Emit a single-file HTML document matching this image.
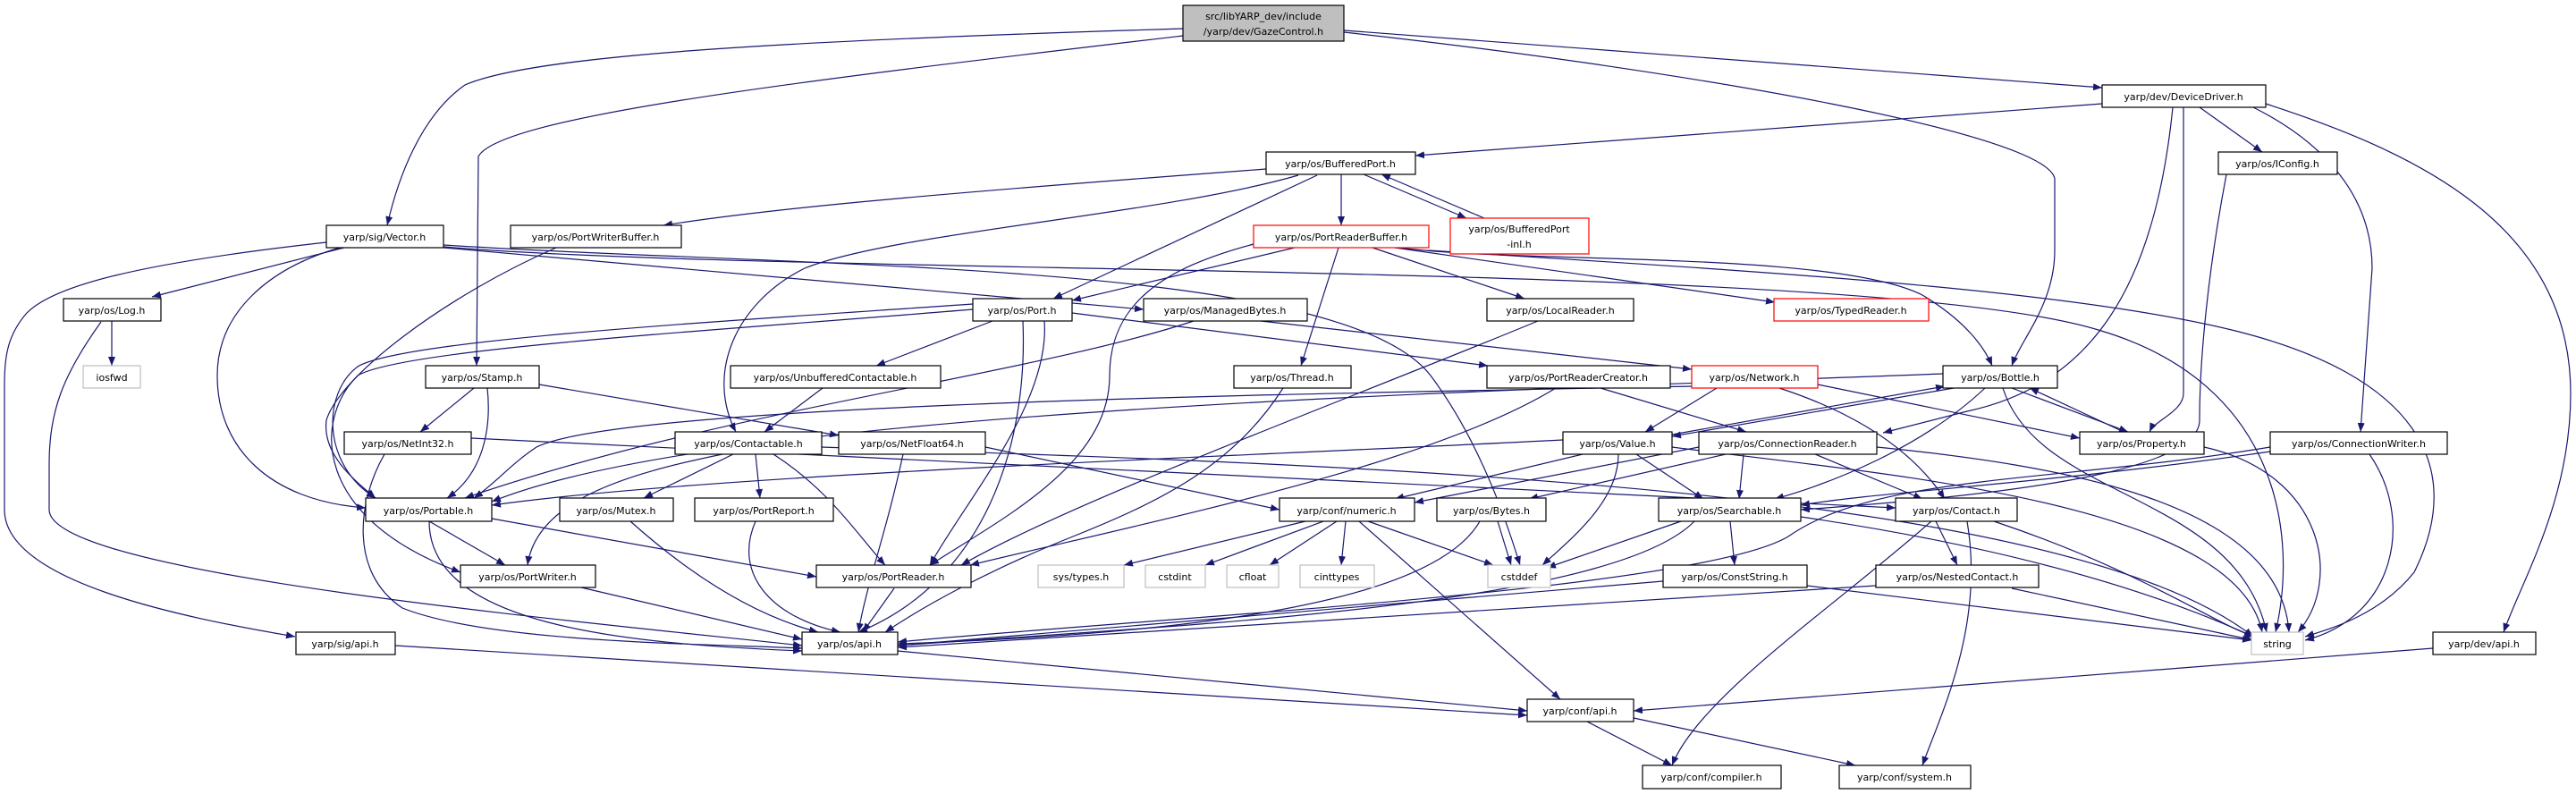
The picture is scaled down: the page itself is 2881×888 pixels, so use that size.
<!DOCTYPE html>
<html><head><meta charset="utf-8"><style>
html,body{margin:0;padding:0;background:#fff;width:2881px;height:888px;overflow:hidden}
svg{display:block}
text{font-family:"DejaVu Sans","Liberation Sans",sans-serif;font-size:11px;fill:#000}
.e{fill:none;stroke:#191970;stroke-width:1.2}
.n{fill:#fff;stroke:#000;stroke-width:1.2}
.r{fill:#fff;stroke:#ff0000;stroke-width:1.2}
.g{fill:#fff;stroke:#bfbfbf;stroke-width:1.2}
</style></head><body>
<svg width="2881" height="888" viewBox="0 0 2881 888" xmlns="http://www.w3.org/2000/svg">
<defs><marker id="a" markerWidth="11" markerHeight="8" refX="10" refY="4" orient="auto" markerUnits="userSpaceOnUse"><path d="M0,0 L10,4 L0,8 z" fill="#191970"/></marker></defs>
<g class="e" marker-end="url(#a)">
<path d="M1323,32 C900,45 600,60 520,95 C470,130 445,200 433,252"/>
<path d="M1323,40 C900,90 560,130 535,175 L533,409"/>
<path d="M1503,34 L2351,98"/>
<path d="M1503,36 C1900,80 2290,150 2298,200 L2298,280 C2298,340 2260,380 2250,409"/>
<path d="M2351,116 L1583,174"/>
<path d="M2460,120 L2530,170"/>
<path d="M2442,120 L2442,440 C2442,460 2410,470 2404,483"/>
<path d="M2430,120 C2410,320 2340,430 2200,460 L2106,484"/>
<path d="M2520,120 C2600,160 2653,220 2653,300 L2640,483"/>
<path d="M2534,116 C2700,170 2875,250 2875,440 C2875,560 2820,650 2800,707"/>
<path d="M1500,195 L1500,252"/>
<path d="M1525,195 L1640,244"/>
<path d="M1660,244 L1545,195"/>
<path d="M1416,189 C1000,220 850,235 742,252"/>
<path d="M1473,196 L1178,334"/>
<path d="M1452,196 C1300,240 1000,260 900,300 C820,340 790,420 823,483"/>
<path d="M1402,273 C1300,300 1241,340 1241,420 C1241,520 1120,580 1040,632"/>
<path d="M1448,277 L1199,336"/>
<path d="M1497,277 L1455,409"/>
<path d="M1535,277 L1705,334"/>
<path d="M1560,277 L1985,338"/>
<path d="M1565,277 C1700,295 2050,280 2150,330 C2200,360 2220,390 2228,409"/>
<path d="M1598,280 C1900,300 2300,320 2500,370 C2700,420 2760,520 2700,640 C2660,690 2600,705 2578,712"/>
<path d="M496,276 C900,310 2100,290 2350,370 C2550,430 2570,600 2545,707"/>
<path d="M496,277 L1279,346"/>
<path d="M496,274 C900,300 1500,290 1600,420 C1660,500 1690,600 1700,632"/>
<path d="M365,271 C150,295 60,320 30,350 C8,375 5,400 5,430 L5,570 C5,650 200,690 330,712"/>
<path d="M385,277 L170,332"/>
<path d="M380,277 C300,300 243,350 243,420 C243,500 300,560 409,568"/>
<path d="M125,359 L125,409"/>
<path d="M113,360 C70,420 55,460 55,520 L55,570 C55,640 600,690 897,722"/>
<path d="M622,277 C500,330 380,420 365,470 C360,510 400,540 420,557"/>
<path d="M1088,340 C800,360 450,380 400,410 C360,440 360,520 420,557"/>
<path d="M1088,346 C800,370 450,390 400,420 C350,470 350,580 515,640"/>
<path d="M1110,359 L980,409"/>
<path d="M1199,350 L1664,409"/>
<path d="M1144,359 C1150,500 1100,650 960,707"/>
<path d="M1168,359 C1175,450 1080,560 1040,632"/>
<path d="M1410,359 L1892,413"/>
<path d="M1335,359 C1150,420 800,460 520,557"/>
<path d="M1720,359 C1500,450 1200,560 1075,632"/>
<path d="M1435,434 C1380,520 1300,560 1200,600 C1100,640 1030,680 990,707"/>
<path d="M530,434 L470,483"/>
<path d="M545,434 C550,480 540,530 500,557"/>
<path d="M603,430 L938,487"/>
<path d="M920,434 L855,483"/>
<path d="M1740,434 C1600,520 1300,580 1085,632"/>
<path d="M1790,434 L1953,483"/>
<path d="M1920,434 L1840,483"/>
<path d="M1990,434 C2100,470 2150,520 2175,558"/>
<path d="M1892,432 C1500,440 700,450 600,500 C570,520 555,540 530,557"/>
<path d="M2033,430 L2326,490"/>
<path d="M2173,418 C1600,440 800,460 550,561"/>
<path d="M2220,434 C2150,500 2050,540 1985,558"/>
<path d="M2185,434 L1870,488"/>
<path d="M1870,486 L2175,432"/>
<path d="M2250,434 L2380,483"/>
<path d="M2375,483 L2270,434"/>
<path d="M2240,434 C2280,560 2500,550 2535,707"/>
<path d="M1748,492 C1400,510 800,530 550,565"/>
<path d="M1770,508 L1560,558"/>
<path d="M1810,508 C1810,560 1760,600 1725,632"/>
<path d="M1830,508 L1905,558"/>
<path d="M1870,500 C2100,530 2500,560 2530,707"/>
<path d="M1950,508 L1945,558"/>
<path d="M2030,508 L2150,558"/>
<path d="M1930,508 L1710,558"/>
<path d="M1900,500 L1582,562"/>
<path d="M2099,500 C2300,520 2550,560 2560,707"/>
<path d="M2539,505 C2300,540 2100,550 2014,565"/>
<path d="M2539,500 C2300,540 2100,530 2000,600 C1900,660 1300,690 1004,718"/>
<path d="M2650,508 C2700,580 2680,690 2578,716"/>
<path d="M2465,500 C2600,530 2620,650 2570,707"/>
<path d="M2490,195 C2470,300 2460,400 2460,470 C2460,520 2300,550 2014,570"/>
<path d="M430,508 C400,560 390,640 450,680 C550,720 800,720 897,725"/>
<path d="M527,490 L2120,568"/>
<path d="M808,508 C700,530 600,560 590,632"/>
<path d="M820,508 L720,557"/>
<path d="M845,508 L850,557"/>
<path d="M865,508 C930,550 960,600 990,632"/>
<path d="M919,500 C1500,520 2300,540 2520,712"/>
<path d="M1010,508 C990,600 970,650 960,707"/>
<path d="M1102,500 L1431,570"/>
<path d="M480,583 L565,632"/>
<path d="M550,580 L913,645"/>
<path d="M480,583 C480,700 700,720 897,728"/>
<path d="M705,583 C780,650 850,690 915,707"/>
<path d="M845,583 C820,640 860,690 940,707"/>
<path d="M650,657 L897,715"/>
<path d="M1000,658 L965,707"/>
<path d="M1460,583 L1257,632"/>
<path d="M1480,583 L1348,632"/>
<path d="M1495,583 L1420,632"/>
<path d="M1505,583 L1500,632"/>
<path d="M1530,583 L1670,632"/>
<path d="M1520,583 L1745,782"/>
<path d="M1655,583 C1600,680 1300,710 1004,720"/>
<path d="M1675,583 L1690,632"/>
<path d="M1880,583 L1730,635"/>
<path d="M1895,583 C1800,680 1300,700 1004,722"/>
<path d="M1935,583 L1940,632"/>
<path d="M2014,578 C2300,620 2450,680 2520,712"/>
<path d="M2165,583 L2189,632"/>
<path d="M2160,583 C2050,680 1900,780 1870,856"/>
<path d="M2200,583 C2220,700 2170,800 2150,856"/>
<path d="M2230,583 C2400,640 2480,700 2522,712"/>
<path d="M1860,650 L1004,722"/>
<path d="M2021,655 L2518,716"/>
<path d="M2098,655 L1004,724"/>
<path d="M2250,658 L2520,716"/>
<path d="M1004,728 L1708,795"/>
<path d="M442,722 L1708,800"/>
<path d="M2721,725 L1827,795"/>
<path d="M1775,807 L1870,856"/>
<path d="M1827,803 L2075,856"/>
</g>
<rect x="1323" y="6" width="180" height="40" fill="#bfbfbf" stroke="#000" stroke-width="1.2"/>
<text x="1413" y="22" text-anchor="middle">src/libYARP_dev/include</text>
<text x="1413" y="39" text-anchor="middle">/yarp/dev/GazeControl.h</text>
<rect class="r" x="1622" y="244" width="155" height="40"/>
<text x="1699" y="260" text-anchor="middle">yarp/os/BufferedPort</text>
<text x="1699" y="277" text-anchor="middle">-inl.h</text>
<g text-anchor="middle">
<rect class="n" x="2351" y="95" width="183" height="25"/><text x="2442" y="112">yarp/dev/DeviceDriver.h</text>
<rect class="n" x="1416" y="170" width="167" height="25"/><text x="1499" y="187">yarp/os/BufferedPort.h</text>
<rect class="n" x="2481" y="170" width="133" height="25"/><text x="2547" y="187">yarp/os/IConfig.h</text>
<rect class="n" x="365" y="252" width="131" height="25"/><text x="430" y="269">yarp/sig/Vector.h</text>
<rect class="n" x="571" y="252" width="191" height="25"/><text x="666" y="269">yarp/os/PortWriterBuffer.h</text>
<rect class="r" x="1402" y="252" width="196" height="25"/><text x="1500" y="269">yarp/os/PortReaderBuffer.h</text>
<rect class="n" x="71" y="334" width="109" height="25"/><text x="125" y="351">yarp/os/Log.h</text>
<rect class="n" x="1088" y="334" width="111" height="25"/><text x="1143" y="351">yarp/os/Port.h</text>
<rect class="n" x="1279" y="334" width="183" height="25"/><text x="1370" y="351">yarp/os/ManagedBytes.h</text>
<rect class="n" x="1663" y="334" width="164" height="25"/><text x="1745" y="351">yarp/os/LocalReader.h</text>
<rect class="r" x="1984" y="334" width="173" height="25"/><text x="2070" y="351">yarp/os/TypedReader.h</text>
<rect class="g" x="93" y="409" width="64" height="25"/><text x="125" y="426">iosfwd</text>
<rect class="n" x="476" y="409" width="127" height="25"/><text x="539" y="426">yarp/os/Stamp.h</text>
<rect class="n" x="817" y="409" width="235" height="25"/><text x="934" y="426">yarp/os/UnbufferedContactable.h</text>
<rect class="n" x="1380" y="409" width="131" height="25"/><text x="1445" y="426">yarp/os/Thread.h</text>
<rect class="n" x="1663" y="409" width="205" height="25"/><text x="1765" y="426">yarp/os/PortReaderCreator.h</text>
<rect class="r" x="1892" y="409" width="141" height="25"/><text x="1962" y="426">yarp/os/Network.h</text>
<rect class="n" x="2173" y="409" width="128" height="25"/><text x="2237" y="426">yarp/os/Bottle.h</text>
<rect class="n" x="385" y="483" width="142" height="25"/><text x="456" y="500">yarp/os/NetInt32.h</text>
<rect class="n" x="755" y="483" width="164" height="25"/><text x="837" y="500">yarp/os/Contactable.h</text>
<rect class="n" x="938" y="483" width="164" height="25"/><text x="1020" y="500">yarp/os/NetFloat64.h</text>
<rect class="n" x="1748" y="483" width="122" height="25"/><text x="1809" y="500">yarp/os/Value.h</text>
<rect class="n" x="1900" y="483" width="199" height="25"/><text x="1999" y="500">yarp/os/ConnectionReader.h</text>
<rect class="n" x="2326" y="483" width="139" height="25"/><text x="2395" y="500">yarp/os/Property.h</text>
<rect class="n" x="2539" y="483" width="198" height="25"/><text x="2638" y="500">yarp/os/ConnectionWriter.h</text>
<rect class="n" x="409" y="557" width="141" height="26"/><text x="479" y="575">yarp/os/Portable.h</text>
<rect class="n" x="626" y="557" width="127" height="26"/><text x="689" y="575">yarp/os/Mutex.h</text>
<rect class="n" x="777" y="557" width="155" height="26"/><text x="854" y="575">yarp/os/PortReport.h</text>
<rect class="n" x="1431" y="557" width="151" height="26"/><text x="1506" y="575">yarp/conf/numeric.h</text>
<rect class="n" x="1607" y="557" width="122" height="26"/><text x="1668" y="575">yarp/os/Bytes.h</text>
<rect class="n" x="1855" y="557" width="159" height="26"/><text x="1934" y="575">yarp/os/Searchable.h</text>
<rect class="n" x="2120" y="557" width="136" height="26"/><text x="2188" y="575">yarp/os/Contact.h</text>
<rect class="n" x="515" y="632" width="151" height="25"/><text x="590" y="649">yarp/os/PortWriter.h</text>
<rect class="n" x="913" y="632" width="173" height="25"/><text x="999" y="649">yarp/os/PortReader.h</text>
<rect class="g" x="1161" y="632" width="96" height="25"/><text x="1209" y="649">sys/types.h</text>
<rect class="g" x="1281" y="632" width="67" height="25"/><text x="1314" y="649">cstdint</text>
<rect class="g" x="1372" y="632" width="58" height="25"/><text x="1401" y="649">cfloat</text>
<rect class="g" x="1454" y="632" width="83" height="25"/><text x="1495" y="649">cinttypes</text>
<rect class="g" x="1664" y="632" width="70" height="25"/><text x="1699" y="649">cstddef</text>
<rect class="n" x="1860" y="632" width="161" height="25"/><text x="1940" y="649">yarp/os/ConstString.h</text>
<rect class="n" x="2098" y="632" width="182" height="25"/><text x="2189" y="649">yarp/os/NestedContact.h</text>
<rect class="n" x="331" y="707" width="111" height="25"/><text x="386" y="724">yarp/sig/api.h</text>
<rect class="n" x="897" y="707" width="107" height="25"/><text x="950" y="724">yarp/os/api.h</text>
<rect class="g" x="2518" y="707" width="58" height="25"/><text x="2547" y="724">string</text>
<rect class="n" x="2721" y="707" width="115" height="25"/><text x="2778" y="724">yarp/dev/api.h</text>
<rect class="n" x="1708" y="782" width="119" height="25"/><text x="1767" y="799">yarp/conf/api.h</text>
<rect class="n" x="1837" y="856" width="155" height="26"/><text x="1914" y="873">yarp/conf/compiler.h</text>
<rect class="n" x="2057" y="856" width="147" height="26"/><text x="2130" y="873">yarp/conf/system.h</text>
</g>
</svg>
</body></html>
